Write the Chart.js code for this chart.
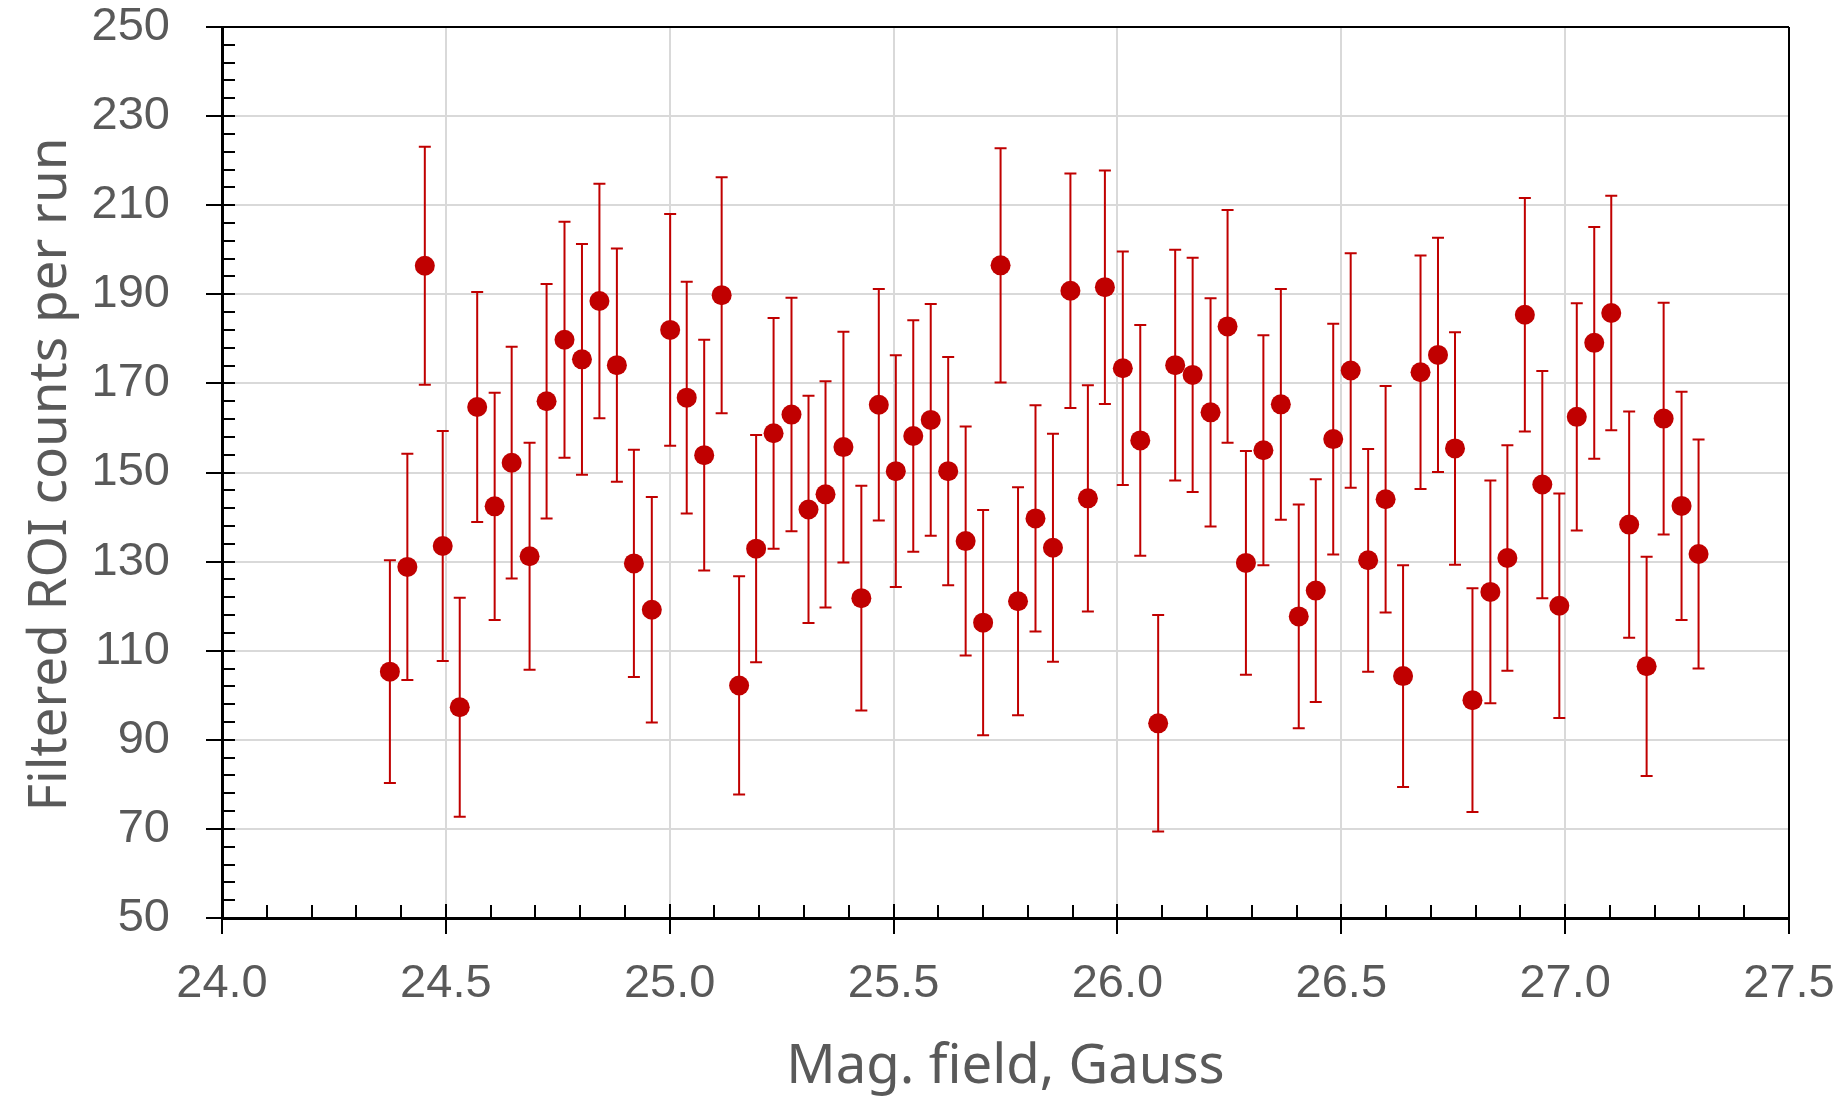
<!DOCTYPE html>
<html>
<head>
<meta charset="utf-8">
<script src="https://cdn.jsdelivr.net/npm/chart.js@4.4.1/dist/chart.umd.min.js"></script>
<style>
  html, body { margin: 0; padding: 0; background: #fff; }
  #wrap { width: 1847px; height: 1099px; }
</style>
</head>
<body>
<div id="wrap"><canvas id="roiChart" width="1847" height="1099"></canvas></div>
<script>
// magnetic field (Gauss) of each run
const fieldGauss = [
  24.375, 24.414, 24.453, 24.493, 24.531, 24.570, 24.609, 24.647, 24.687, 24.725,
  24.765, 24.804, 24.843, 24.882, 24.920, 24.960, 25.001, 25.038, 25.077, 25.116,
  25.155, 25.193, 25.232, 25.272, 25.310, 25.348, 25.388, 25.428, 25.467, 25.505,
  25.544, 25.583, 25.622, 25.661, 25.700, 25.739, 25.778, 25.817, 25.856, 25.895,
  25.934, 25.972, 26.012, 26.051, 26.091, 26.129, 26.168, 26.208, 26.246, 26.287,
  26.326, 26.365, 26.405, 26.443, 26.482, 26.521, 26.560, 26.599, 26.638, 26.677,
  26.716, 26.754, 26.793, 26.833, 26.871, 26.910, 26.949, 26.987, 27.026, 27.065,
  27.103, 27.143, 27.182, 27.220, 27.260, 27.298
];
// filtered ROI counts per run
const roiCounts = [
  105.3, 128.8, 196.4, 133.5, 97.3, 164.7, 142.4, 152.2, 131.2, 166.0,
  179.8, 175.4, 188.5, 174.1, 129.6, 119.2, 182.0, 166.8, 153.9, 189.8,
  102.2, 132.9, 158.8, 163.0, 141.7, 145.1, 155.7, 121.8, 165.2, 150.3,
  158.2, 161.8, 150.3, 134.6, 116.3, 196.5, 121.1, 139.7, 133.1, 190.8,
  144.2, 191.6, 173.4, 157.2, 93.7, 174.1, 171.9, 163.5, 182.8, 129.7,
  155.0, 165.3, 117.7, 123.5, 157.5, 172.9, 130.3, 144.0, 104.3, 172.5,
  176.4, 155.4, 98.9, 123.2, 130.8, 185.4, 147.3, 120.1, 162.5, 179.1,
  185.8, 138.3, 106.5, 162.1, 142.5, 131.7
];
// error bar half-length
const roiErrors = [
  25.0, 25.4, 26.7, 25.8, 24.6, 25.8, 25.5, 26.0, 25.5, 26.3,
  26.5, 25.9, 26.3, 26.2, 25.5, 25.3, 26.0, 26.0, 25.9, 26.5,
  24.5, 25.5, 25.9, 26.2, 25.5, 25.4, 25.9, 25.2, 26.0, 26.0,
  26.0, 26.0, 25.6, 25.7, 25.3, 26.3, 25.6, 25.4, 25.6, 26.3,
  25.4, 26.2, 26.2, 25.9, 24.3, 25.9, 26.3, 25.6, 26.1, 25.1,
  25.8, 25.9, 25.1, 25.0, 25.9, 26.3, 25.0, 25.4, 24.9, 26.2,
  26.3, 26.1, 25.1, 25.0, 25.3, 26.2, 25.5, 25.2, 25.5, 26.0,
  26.3, 25.4, 24.6, 26.0, 25.6, 25.7
];
const xTickValues = [24.0, 24.5, 25.0, 25.5, 26.0, 26.5, 27.0, 27.5];
const yTickValues = [50, 70, 90, 110, 130, 150, 170, 190, 210, 230, 250];
const xTitle = 'Mag. field, Gauss';
const yTitle = 'Filtered ROI counts per run';

const red = '#c00000';
const textGrey = '#595959';
const tickFont = { family: '"Liberation Sans", Arial, sans-serif', size: 47, lineHeight: 1 };

// vertical error bars with caps
const errorBarPlugin = {
  id: 'errorBars',
  beforeDatasetsDraw(chart) {
    const ctx = chart.ctx;
    const xs = chart.scales.x, ys = chart.scales.y;
    ctx.save();
    ctx.strokeStyle = red;
    ctx.lineWidth = 2;
    fieldGauss.forEach((f, i) => {
      const px = xs.getPixelForValue(f);
      const top = ys.getPixelForValue(roiCounts[i] + roiErrors[i]);
      const bot = ys.getPixelForValue(roiCounts[i] - roiErrors[i]);
      ctx.beginPath();
      ctx.moveTo(px, top); ctx.lineTo(px, bot);
      ctx.moveTo(px - 6, top); ctx.lineTo(px + 6, top);
      ctx.moveTo(px - 6, bot); ctx.lineTo(px + 6, bot);
      ctx.stroke();
    });
    ctx.restore();
  }
};

// frame, major/minor tick marks and axis titles
const frameTicksPlugin = {
  id: 'frameTicks',
  afterDraw(chart) {
    const ctx = chart.ctx;
    const ca = chart.chartArea;
    const xs = chart.scales.x, ys = chart.scales.y;
    ctx.save();
    ctx.strokeStyle = '#000';

    // top and right frame
    ctx.lineWidth = 2;
    ctx.beginPath();
    ctx.moveTo(ca.left, ca.top); ctx.lineTo(ca.right, ca.top);
    ctx.moveTo(ca.right, ca.top); ctx.lineTo(ca.right, ca.bottom);
    ctx.stroke();

    ctx.beginPath();
    // y minor ticks (inside), every 4
    for (let v = 54; v < 250; v += 4) {
      if ((v - 50) % 20 === 0) continue;
      const py = Math.round(ys.getPixelForValue(v));
      ctx.moveTo(ca.left, py); ctx.lineTo(ca.left + 13, py);
    }
    // y major ticks (cross)
    yTickValues.forEach(v => {
      const py = Math.round(ys.getPixelForValue(v));
      ctx.moveTo(ca.left - 16, py); ctx.lineTo(ca.left + 13, py);
    });
    // x minor ticks (inside), every 0.1
    for (let k = 241; k < 275; k++) {
      if (k % 5 === 0) continue;
      const px = Math.round(xs.getPixelForValue(k / 10));
      ctx.moveTo(px, ca.bottom); ctx.lineTo(px, ca.bottom - 13);
    }
    // x major ticks (cross)
    xTickValues.forEach(v => {
      const px = Math.round(xs.getPixelForValue(v));
      ctx.moveTo(px, ca.bottom - 14); ctx.lineTo(px, ca.bottom + 16);
    });
    ctx.stroke();

    // axis titles
    ctx.fillStyle = textGrey;
    ctx.textAlign = 'center';
    ctx.textBaseline = 'alphabetic';
    ctx.font = '54.5px "Noto Sans", sans-serif';
    ctx.fillText(xTitle, (ca.left + ca.right) / 2, 1083);
    ctx.font = '53px "Noto Sans", sans-serif';
    ctx.translate(66, (ca.top + ca.bottom) / 2 + 2);
    ctx.rotate(-Math.PI / 2);
    ctx.fillText(yTitle, 0, 0);
    ctx.restore();
  }
};

// fixed axis boxes, no extra label overflow padding
function fixBox(s, size) {
  if (s.isHorizontal()) s.height = size; else s.width = size;
  s.paddingTop = 0; s.paddingBottom = 0; s.paddingLeft = 0; s.paddingRight = 0;
}

new Chart(document.getElementById('roiChart'), {
  type: 'scatter',
  data: {
    datasets: [{
      data: fieldGauss.map((f, i) => ({ x: f, y: roiCounts[i] })),
      backgroundColor: red,
      borderColor: red,
      borderWidth: 0,
      pointRadius: 10,
      pointHoverRadius: 10
    }]
  },
  options: {
    responsive: false,
    animation: false,
    devicePixelRatio: 1,
    layout: { padding: { top: 27, right: 58, left: 0, bottom: 0 } },
    plugins: { legend: { display: false }, tooltip: { enabled: false } },
    scales: {
      x: {
        type: 'linear',
        min: 24,
        max: 27.5,
        afterBuildTicks: s => { s.ticks = xTickValues.map(v => ({ value: v })); },
        afterFit: s => fixBox(s, 181),
        grid: { color: '#d9d9d9', lineWidth: 2, drawTicks: false },
        border: { color: '#000', width: 3 },
        ticks: {
          font: tickFont, color: textGrey, padding: 43,
          maxRotation: 0, autoSkip: false,
          callback: v => v.toFixed(1)
        }
      },
      y: {
        type: 'linear',
        min: 50,
        max: 250,
        afterBuildTicks: s => { s.ticks = yTickValues.map(v => ({ value: v })); },
        afterFit: s => fixBox(s, 222),
        grid: { color: '#d9d9d9', lineWidth: 2, drawTicks: false },
        border: { color: '#000', width: 3 },
        ticks: {
          font: tickFont, color: textGrey, padding: 52,
          autoSkip: false,
          callback: v => String(v)
        }
      }
    }
  },
  plugins: [errorBarPlugin, frameTicksPlugin]
});
</script>
</body>
</html>
